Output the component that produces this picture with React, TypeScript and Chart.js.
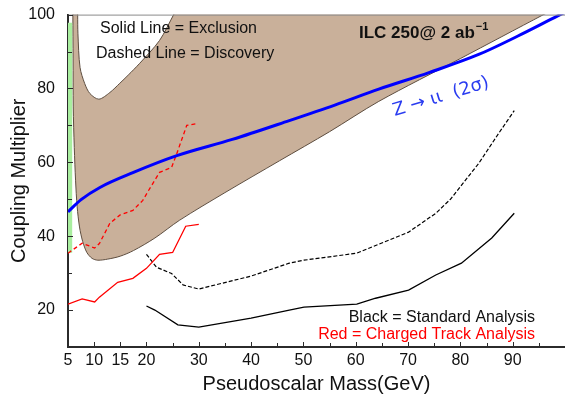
import React, { useEffect, useRef } from 'react';
import { Chart, registerables } from 'chart.js';

Chart.register(...registerables);

// ---- axis ticks ----
const xTickValues = [5, 10, 15, 20, 30, 40, 50, 60, 70, 80, 90];
const xMinorTickValues = [25, 35, 45, 55, 65, 75, 85, 95];
const yTickValues = [20, 40, 60, 80, 100];
const yMinorTickValues = [30, 50, 70, 90];

// ---- ILC 250 excluded region (closed outline: outer boundary, then inner notch) ----
const ilcRegion: [number, number][] = [
  [5.93, 106], [5.93, 100], [5.97, 88], [6.0, 75], [6.2, 64], [6.45, 55], [6.75, 48],
  [7.2, 42.5], [7.8, 38.6], [8.6, 35.6], [9.6, 34], [10.7, 33.5], [12.6, 33.8],
  [15, 34.6], [17.5, 36.1], [21.6, 39.5], [26.3, 44.3], [35, 51.8], [45.4, 60.4],
  [55, 68.3], [64.4, 76.5], [80, 88.1], [95.9, 100], [100, 103], [100, 106],
  [27, 106], [25.8, 101.5], [25.2, 100], [22.5, 93], [18.7, 86.8], [16.5, 83.6],
  [14.9, 81.4], [13, 78.9], [10.9, 77.1], [9.2, 78.6], [8.2, 81.3], [7.3, 85.7],
  [6.9, 94.8], [6.85, 100], [6.85, 106],
];

// ---- green band at low mass ----
const greenBand: [number, number][] = [
  [5, 35.5], [5.8, 35.5], [5.8, 97.8], [5, 97.8],
];

// ---- Z -> ll (2 sigma) ----
const zllLine: [number, number][] = [
  [5, 46.6], [7.5, 49.9], [11.1, 53.2], [17.4, 57.2], [25.8, 61.8], [36.4, 66.2],
  [47.3, 71.3], [56, 75.5], [64.4, 79.8], [74, 84.3], [83.5, 89.2], [91, 94.2],
  [98.7, 99.7], [100, 100.6],
];

// ---- Charged track analysis (red) ----
const redDiscovery: [number, number][] = [
  [5, 35.4], [7.7, 38.1], [10.1, 36.8], [11, 38], [13, 43.5], [14.9, 45.7],
  [17.4, 47], [19.3, 49.7], [20.2, 51.9], [22.5, 57.3], [24.8, 58.6], [25.8, 62.4],
  [27.7, 70], [29.8, 70.5],
];
const redExclusion: [number, number][] = [
  [5, 21.6], [7.7, 23], [10.1, 22.2], [11, 23.5], [14.5, 27.5], [17.4, 28.6],
  [20, 31.3], [22.5, 35.1], [25, 35.6], [27.5, 42.7], [30, 43.2],
];

// ---- Standard analysis (black) ----
const blackDiscovery: [number, number][] = [
  [20, 35.1], [21.9, 31.6], [24.8, 29.9], [27, 26.8], [30, 25.7], [40, 29.2],
  [47.3, 32.7], [50.1, 33.5], [60.2, 35.4], [70.1, 41.1], [75.3, 46.2],
  [78.1, 50], [83.5, 59.7], [87.3, 67.8], [90.3, 74],
];
const blackExclusion: [number, number][] = [
  [20, 21.1], [21.6, 20], [26, 16], [30, 15.4], [40, 17.8], [47.3, 20],
  [50.1, 20.8], [60.2, 21.6], [63.8, 23.2], [70.1, 25.4], [75.3, 29.5],
  [80.2, 32.7], [86, 39.5], [90.3, 46.2],
];

const toXY = (pts: [number, number][]) => pts.map(([x, y]) => ({ x, y }));

const FONT = '"Liberation Sans", Arial, Helvetica, sans-serif';

const decorPlugin = {
  id: 'decor',
  afterDatasetsDraw(chart: any) {
    const { ctx, chartArea } = chart;
    const xs = chart.scales.x;
    const ys = chart.scales.y;
    ctx.save();
    // top frame line
    ctx.strokeStyle = '#8a8a8a';
    ctx.lineWidth = 1;
    ctx.beginPath();
    ctx.moveTo(chartArea.left, chartArea.top + 0.5);
    ctx.lineTo(chartArea.right, chartArea.top + 0.5);
    ctx.stroke();

    // inward ticks
    ctx.strokeStyle = '#2b2b2b';
    ctx.lineWidth = 1;
    const drawX = (v: number, len: number) => {
      const px = Math.round(xs.getPixelForValue(v)) + 0.5;
      ctx.beginPath();
      ctx.moveTo(px, chartArea.bottom);
      ctx.lineTo(px, chartArea.bottom - len);
      ctx.stroke();
    };
    const drawY = (v: number, len: number) => {
      const py = Math.round(ys.getPixelForValue(v)) + 0.5;
      ctx.beginPath();
      ctx.moveTo(chartArea.left, py);
      ctx.lineTo(chartArea.left + len, py);
      ctx.stroke();
    };
    xTickValues.forEach((v) => drawX(v, 5));
    xMinorTickValues.forEach((v) => drawX(v, 4));
    yTickValues.forEach((v) => drawY(v, 5));
    yMinorTickValues.forEach((v) => drawY(v, 4));

    // x tick labels, placed through the x scale
    ctx.fillStyle = '#111';
    ctx.textBaseline = 'middle';
    ctx.textAlign = 'center';
    ctx.font = `16px ${FONT}`;
    xTickValues.forEach((v) => {
      ctx.fillText(String(v), xs.getPixelForValue(v), chartArea.bottom + 14);
    });

    // annotations
    ctx.textAlign = 'left';
    ctx.font = `16px ${FONT}`;
    ctx.fillText('Solid Line = Exclusion', 100, 29);
    ctx.fillText('Dashed Line = Discovery', 96, 54);

    ctx.font = `bold 17px ${FONT}`;
    const main = 'ILC 250@ 2 ab';
    ctx.fillText(main, 359, 33);
    const w = ctx.measureText(main).width;
    ctx.font = `bold 11px ${FONT}`;
    ctx.fillText('\u22121', 359 + w + 1, 27);

    ctx.textAlign = 'right';
    ctx.font = `16px ${FONT}`;
    ctx.fillStyle = '#111';
    ctx.fillText('Black = Standard Analysis', 535, 318);
    ctx.fillStyle = '#ff0000';
    ctx.fillText('Red = Charged Track Analysis', 535, 335);

    // handwritten label
    ctx.save();
    ctx.translate(441, 97);
    ctx.rotate(-17 * Math.PI / 180);
    ctx.textAlign = 'center';
    ctx.fillStyle = '#2a3cf0';
    ctx.font = `18px "DejaVu Sans", sans-serif`;
    ctx.fillText('Z \u2192 \u0269\u0269  (2\u03c3)', 0, 0);
    ctx.restore();

    // axis titles
    ctx.fillStyle = '#111';
    ctx.textAlign = 'center';
    ctx.font = `20px ${FONT}`;
    ctx.fillText('Pseudoscalar Mass(GeV)', (chartArea.left + chartArea.right) / 2, 384);
    ctx.save();
    ctx.translate(19, (chartArea.top + chartArea.bottom) / 2);
    ctx.rotate(-Math.PI / 2);
    ctx.fillText('Coupling Multiplier', 0, 0);
    ctx.restore();

    ctx.restore();
  },
};

export default function App() {
  const canvasRef = useRef<HTMLCanvasElement | null>(null);

  useEffect(() => {
    if (!canvasRef.current) return;
    const chart = new Chart(canvasRef.current, {
      type: 'line',
      data: {
        datasets: [
          {
            label: 'ILC region',
            data: toXY(ilcRegion),
            borderColor: '#5e4e40',
            borderWidth: 1,
            backgroundColor: '#c9b09a',
            fill: 'shape',
            tension: 0.3,
            pointRadius: 0,
            order: 10,
          },
          {
            label: 'green',
            data: toXY(greenBand),
            borderColor: 'rgba(0,0,0,0)',
            borderWidth: 0,
            backgroundColor: '#a9ee9f',
            fill: 'shape',
            tension: 0,
            pointRadius: 0,
            order: 9,
          },
          {
            label: 'Z->ll',
            data: toXY(zllLine),
            borderColor: '#0000ff',
            borderWidth: 3,
            fill: false,
            cubicInterpolationMode: 'monotone',
            pointRadius: 0,
            order: 1,
          },
          {
            label: 'red discovery',
            data: toXY(redDiscovery),
            borderColor: '#ff0000',
            borderWidth: 1.3,
            borderDash: [4, 3],
            fill: false,
            tension: 0,
            pointRadius: 0,
            order: 2,
          },
          {
            label: 'red exclusion',
            data: toXY(redExclusion),
            borderColor: '#ff0000',
            borderWidth: 1.3,
            fill: false,
            tension: 0,
            pointRadius: 0,
            order: 2,
          },
          {
            label: 'black discovery',
            data: toXY(blackDiscovery),
            borderColor: '#000000',
            borderWidth: 1.2,
            borderDash: [4, 2],
            fill: false,
            tension: 0,
            pointRadius: 0,
            order: 2,
          },
          {
            label: 'black exclusion',
            data: toXY(blackExclusion),
            borderColor: '#000000',
            borderWidth: 1.3,
            fill: false,
            tension: 0,
            pointRadius: 0,
            order: 2,
          },
        ],
      },
      options: {
        animation: false,
        responsive: false,
        maintainAspectRatio: false,
        layout: { padding: { top: 14, right: 0, left: 0, bottom: 0 } },
        plugins: {
          legend: { display: false },
          tooltip: { enabled: false },
        },
        scales: {
          x: {
            type: 'linear',
            min: 5,
            max: 100,
            grid: { display: false },
            border: { display: true, color: '#2b2b2b', width: 2 },
            afterBuildTicks: (scale: any) => {
              scale.ticks = xTickValues.map((v) => ({ value: v }));
            },
            afterFit: (scale: any) => {
              scale.height = 55;
            },
            ticks: { display: false },
          },
          y: {
            type: 'linear',
            min: 10,
            max: 100,
            grid: { display: false },
            border: { display: true, color: '#2b2b2b', width: 2 },
            afterBuildTicks: (scale: any) => {
              scale.ticks = yTickValues.map((v) => ({ value: v }));
            },
            afterFit: (scale: any) => {
              scale.width = 68;
            },
            ticks: {
              padding: 5,
              color: '#111',
              font: { family: FONT, size: 16 },
              callback: (v: any) => String(v),
            },
          },
        },
      },
      plugins: [decorPlugin],
    } as any);
    return () => chart.destroy();
  }, []);

  return (
    <div style={{ position: 'fixed', left: 0, top: 0, width: 565, height: 402, background: '#fff' }}>
      <canvas ref={canvasRef} width={565} height={402} style={{ width: 565, height: 402, display: 'block' }} />
    </div>
  );
}
